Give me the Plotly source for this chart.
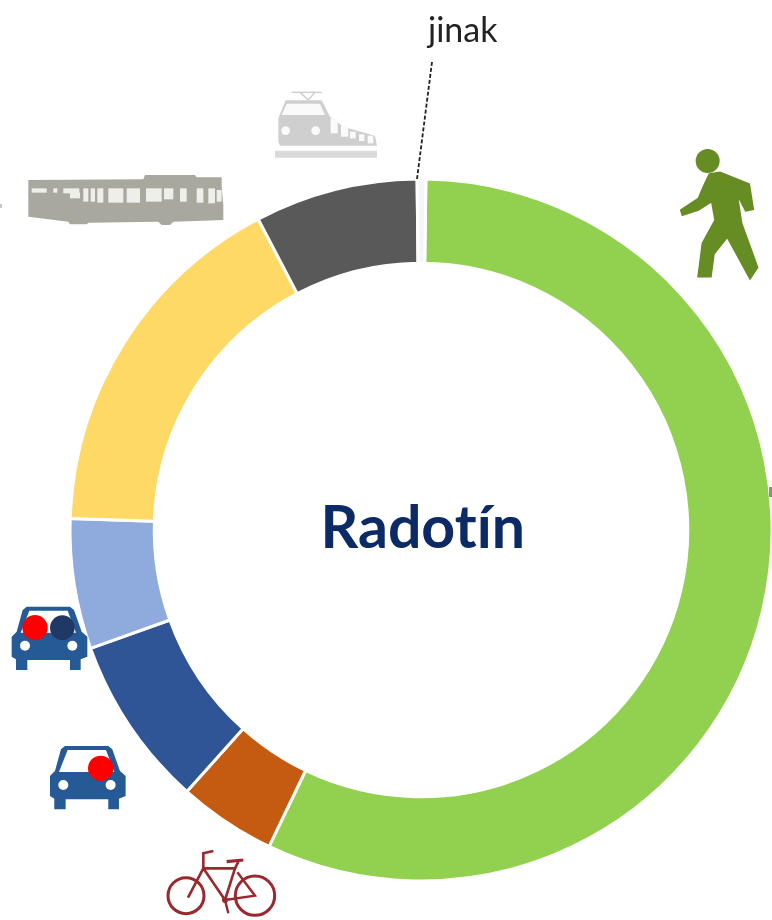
import plotly.graph_objects as go

W, H = 772, 920

categories = ["pěšky", "kolo", "auto řidič", "auto spolujezdec", "autobus", "vlak", "jinak"]
shares = [56.9, 4.5, 7.9, 6.0, 16.8, 7.5, 0.4]
colors = ["#92D050", "#C55A11", "#2F5597", "#8FAADC", "#FFD966", "#595959", "#F4F6FB"]
title_text = "Radotín"
other_label = "jinak"


def X(x):
    return x / W


def Y(y):
    return 1 - y / H


def path(points, close=True):
    s = "M " + " L ".join(f"{X(x):.5f},{Y(y):.5f}" for x, y in points)
    return s + (" Z" if close else "")


shapes = []


def poly(points, fill, scale=1.0, ox=0.0, oy=0.0, stroke=0):
    pts = [(x / scale + ox, y / scale + oy) for x, y in points]
    shapes.append(dict(type="path", xref="paper", yref="paper", path=path(pts),
                       fillcolor=fill, line=dict(width=stroke, color=fill), layer="above"))


def line(points, color, width, scale=1.0, ox=0.0, oy=0.0, dash=None):
    pts = [(x / scale + ox, y / scale + oy) for x, y in points]
    ln = dict(color=color, width=width)
    if dash:
        ln["dash"] = dash
    shapes.append(dict(type="path", xref="paper", yref="paper", path=path(pts, close=False),
                       fillcolor="rgba(0,0,0,0)", line=ln, layer="above"))


def circle(cx, cy, r, fill=None, stroke=None, width=0, scale=1.0, ox=0.0, oy=0.0):
    cx, cy, r = cx / scale + ox, cy / scale + oy, r / scale
    shapes.append(dict(type="circle", xref="paper", yref="paper",
                       x0=X(cx - r), x1=X(cx + r), y0=Y(cy + r), y1=Y(cy - r),
                       fillcolor=fill or "rgba(0,0,0,0)",
                       line=dict(width=width, color=stroke or "rgba(0,0,0,0)"), layer="above"))


def rect(x0, y0, x1, y1, fill, scale=1.0, ox=0.0, oy=0.0):
    poly([(x0, y0), (x1, y0), (x1, y1), (x0, y1)], fill, scale, ox, oy)


# leader line
line([(432, 62), (417, 179)], "#222222", 1.8, dash="4px,2px")

# walker
WALK = "#668C24"
circle(203, 93, 36, fill=WALK, scale=3, ox=640, oy=130)
poly([(208, 132), (240, 127), (328, 162), (340, 238), (317, 243), (292, 195), (305, 280), (353, 412),
      (330, 447), (262, 322), (222, 372), (213, 440), (174, 440), (187, 340), (225, 270), (215, 215),
      (175, 240), (127, 256), (122, 240), (175, 205), (192, 165)], WALK, scale=3, ox=640, oy=130, stroke=1.5)

# bus
BUS = "#A8A89E"
poly([(25, 30), (370, 28), (375, 15), (525, 15), (530, 22), (605, 22), (605, 50), (610, 105), (610, 150),
      (460, 155), (450, 165), (425, 165), (415, 155), (205, 158), (200, 163), (150, 163), (145, 155),
      (25, 140)], BUS, scale=3, ox=20, oy=170)
for b in [(35, 55, 80, 68), (100, 55, 112, 68), (130, 55, 178, 70), (150, 68, 180, 85), (190, 55, 205, 95),
          (212, 55, 225, 95), (232, 55, 250, 98), (265, 55, 310, 98), (320, 55, 360, 98), (378, 55, 425, 95),
          (432, 55, 460, 88), (480, 55, 500, 95), (530, 55, 550, 98), (565, 55, 585, 100), (590, 60, 605, 95)]:
    rect(*b, "#EFEFEA", scale=3, ox=20, oy=170)

# train
TRAIN = "#CFCFCF"
line([(80, 22), (170, 22)], TRAIN, 1.5, scale=3, ox=265, oy=85)
line([(105, 22), (130, 45), (150, 22)], TRAIN, 1.5, scale=3, ox=265, oy=85)
poly([(62, 46), (170, 46), (195, 95), (235, 125), (330, 152), (336, 182), (45, 182), (40, 170), (40, 100)],
     TRAIN, scale=3, ox=265, oy=85)
poly([(65, 56), (165, 56), (180, 90), (50, 90)], "#FAFAFA", scale=3, ox=265, oy=85)
circle(62, 137, 13, fill="#FAFAFA", scale=3, ox=265, oy=85)
circle(152, 137, 13, fill="#FAFAFA", scale=3, ox=265, oy=85)
for b in [(197, 100, 218, 145), (228, 122, 250, 155), (255, 140, 272, 160), (282, 148, 298, 168),
          (308, 152, 325, 175)]:
    rect(*b, "#FAFAFA", scale=3, ox=265, oy=85)
rect(30, 197, 336, 218, "#DADADA", scale=3, ox=265, oy=85)

# cars
CAR = "#255A96"


def car(ox, oy):
    poly([(80, 50), (210, 50), (222, 60), (245, 125), (262, 140), (262, 200), (242, 208), (242, 240), (210, 240),
          (210, 210), (82, 210), (82, 240), (48, 240), (48, 208), (35, 200), (35, 140), (50, 125), (68, 60)],
         CAR, scale=3, ox=ox, oy=oy)
    poly([(88, 62), (203, 62), (228, 128), (62, 128)], "#FFFFFF", scale=3, ox=ox, oy=oy)
    circle(75, 167, 15, fill="#FFFFFF", scale=3, ox=ox, oy=oy)
    circle(217, 167, 15, fill="#FFFFFF", scale=3, ox=ox, oy=oy)


car(0, 590)
circle(105, 113, 38, fill="#FF0000", scale=3, ox=0, oy=590)
circle(187, 113, 37, fill="#203864", scale=3, ox=0, oy=590)
car(38.3, 729.3)
circle(187, 117, 38, fill="#FF0000", scale=3, ox=38.3, oy=729.3)

# bicycle
BIKE = "#9A282E"
bk = dict(scale=3, ox=160, oy=845)
circle(78, 152, 54, stroke=BIKE, width=3, **bk)
circle(285, 152, 59, stroke=BIKE, width=3, **bk)
line([(130, 70), (225, 70), (195, 165), (130, 70), (84, 158)], BIKE, 2.6, **bk)
line([(130, 70), (130, 25), (160, 18)], BIKE, 2.6, **bk)
line([(200, 50), (250, 45)], BIKE, 3.2, **bk)
line([(225, 70), (235, 50)], BIKE, 2.6, **bk)
line([(195, 165), (285, 152), (232, 82)], BIKE, 2.4, **bk)
line([(195, 165), (205, 205)], BIKE, 2.4, **bk)
circle(195, 165, 9, fill=BIKE, **bk)

# small cut-off marks at the picture edges
rect(769, 487, 772, 497, "#8A9180")
rect(0, 204, 2, 208, "#C8C8C0")

fig = go.Figure(go.Pie(
    labels=categories,
    values=shares,
    sort=False,
    direction="clockwise",
    rotation=0.8,
    hole=0.76,
    textinfo="none",
    hoverinfo="label+percent",
    showlegend=False,
    marker=dict(colors=colors, line=dict(color="#FFFFFF", width=3)),
    domain=dict(x=[70 / W, 1], y=[1 - 881 / H, 1 - 179 / H]),
))

fig.update_layout(
    width=W, height=H,
    margin=dict(l=0, r=0, t=0, b=0),
    paper_bgcolor="#FFFFFF",
    shapes=shapes,
    annotations=[
        dict(text=f"<b>{title_text}</b>", x=X(423), y=Y(525), xref="paper", yref="paper", showarrow=False,
             xanchor="center", yanchor="middle",
             font=dict(family="Lato", size=59, color="#0B2A66")),
        dict(text=other_label, x=X(462), y=Y(28), xref="paper", yref="paper", showarrow=False,
             xanchor="center", yanchor="middle",
             font=dict(family="Lato", size=34, color="#222222")),
    ],
)

fig.write_html(
    "out.html",
    config=dict(displayModeBar=False),
    post_script=(
        "document.body.style.margin='0';"
        "document.documentElement.style.overflow='hidden';"
        "document.querySelectorAll('.annotation-text').forEach(function(t){"
        "t.style.fontVariantLigatures='none';t.style.fontFeatureSettings='\"liga\" 0,\"clig\" 0,\"calt\" 0';"
        "t.style.letterSpacing='0.01px';});"
        "document.querySelector('.svg-container').style.filter='blur(0.6px)';"
    ),
)
